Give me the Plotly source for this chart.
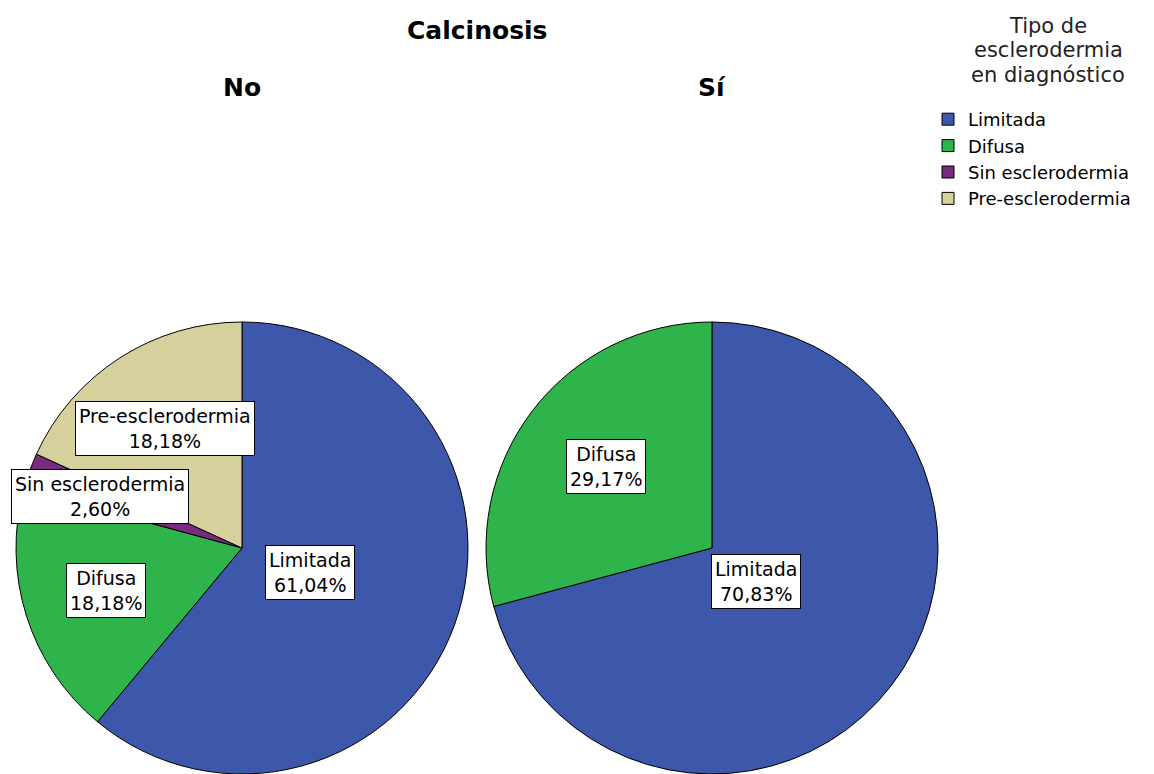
import plotly.graph_objects as go
import math

# ---- data ----
categories = ["Limitada", "Difusa", "Sin esclerodermia", "Pre-esclerodermia"]
counts_no = [47, 14, 2, 14]      # Calcinosis = No  (61,04 / 18,18 / 2,60 / 18,18 %)
counts_si = [17, 7, 0, 0]        # Calcinosis = Sí  (70,83 / 29,17 %)
panel_names = ["No", "Sí"]
main_title = "Calcinosis"
legend_title_lines = ["Tipo de", "esclerodermia", "en diagnóstico"]

# ---- style ----
colors = ["#3D57AB", "#2EB44B", "#782B7F", "#D6D09C"]
OFF = 8                      # page body margin
W, H = 1154 - OFF, 774 - OFF
FONT = "DejaVu Sans"
centers_px = [(242, 548), (712, 548)]   # page coordinates
R = 226
label_r = [[0.32, 0.63, 0.67, 0.63], [0.245, 0.59, 0.6, 0.6]]


def px_x(x):
    return (x - OFF) / W


def px_y(y):
    return 1 - (y - OFF) / H


fig = go.Figure()
annotations = []
for i, (vals, name) in enumerate(zip([counts_no, counts_si], panel_names)):
    cx, cy = centers_px[i]
    labs = [c for c, v in zip(categories, vals) if v > 0]
    vv = [v for v in vals if v > 0]
    cols = [col for col, v in zip(colors, vals) if v > 0]
    fig.add_trace(go.Pie(
        labels=labs, values=vv, sort=False, direction="clockwise", rotation=0,
        marker=dict(colors=cols, line=dict(color="black", width=1)),
        textinfo="none", hoverinfo="label+percent",
        domain=dict(x=[px_x(cx - R), px_x(cx + R)],
                    y=[max(0, px_y(cy + R)), px_y(cy - R)]),
        showlegend=(i == 0), name=name,
    ))
    total = sum(vv)
    cum = 0
    for j, (lab, v) in enumerate(zip(labs, vv)):
        mid = (cum + v / 2) / total * 2 * math.pi
        cum += v
        r = label_r[i][j] * R
        lx = cx + r * math.sin(mid)
        ly = cy - r * math.cos(mid)
        pct = f"{100 * v / total:.2f}".replace(".", ",") + "%"
        annotations.append(dict(
            x=px_x(lx), y=px_y(ly), xref="paper", yref="paper",
            text=f"{lab}<br>{pct}", showarrow=False,
            font=dict(family=FONT, size=19, color="black"),
            bgcolor="white", bordercolor="black", borderwidth=1, borderpad=3,
            xanchor="center", yanchor="middle",
        ))
    annotations.append(dict(
        x=px_x(cx), y=px_y(88), xref="paper", yref="paper", text=f"<b>{name}</b>",
        showarrow=False, font=dict(family=FONT, size=25, color="black"),
        xanchor="center", yanchor="middle"))

annotations.append(dict(
    x=px_x(477), y=px_y(30), xref="paper", yref="paper", text=f"<b>{main_title}</b>",
    showarrow=False, font=dict(family=FONT, size=25, color="black"),
    xanchor="center", yanchor="middle"))

for k, line in enumerate(legend_title_lines):
    annotations.append(dict(
        x=px_x(1048), y=px_y(26 + 24.5 * k), xref="paper", yref="paper", text=line,
        showarrow=False, font=dict(family=FONT, size=21, color="#222222"),
        xanchor="center", yanchor="middle"))

fig.update_layout(
    width=W, height=H,
    margin=dict(l=0, r=0, t=0, b=0),
    paper_bgcolor="white", plot_bgcolor="white",
    annotations=annotations,
    legend=dict(
        x=px_x(928), y=px_y(101), xanchor="left", yanchor="top",
        font=dict(family=FONT, size=18, color="black"),
        traceorder="normal", itemwidth=30, bgcolor="rgba(0,0,0,0)",
    ),
)

fig.write_html("out.html")
